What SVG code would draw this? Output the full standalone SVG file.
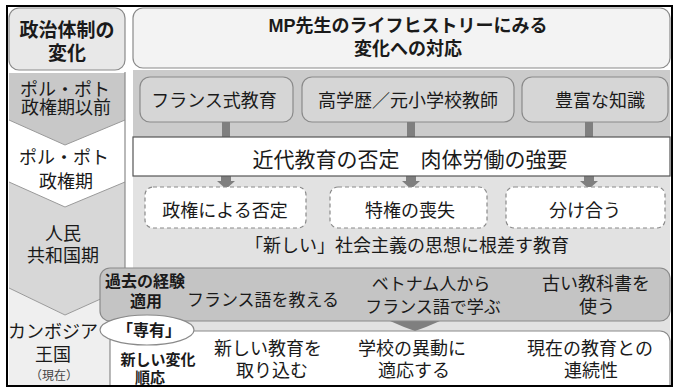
<svg xmlns="http://www.w3.org/2000/svg" width="677" height="389" viewBox="0 0 677 389">
<style>
text{font-family:"Liberation Sans","Noto Sans CJK JP","Noto Sans CJK SC",sans-serif;fill:#1a1a1a;text-anchor:middle;font-size:18px}
.b{font-weight:bold}
.box{fill:#d6d6d6;stroke:#8a8a8a;stroke-width:1.2}
.dash{fill:#fff;stroke:#8a8a8a;stroke-width:1.2;stroke-dasharray:4 3}
.conn{fill:#7f7f7f}
.edge{fill:none;stroke:#9a9a9a;stroke-width:1}
</style>
<rect width="677" height="389" fill="#fff"/>
<g id="left-column">
  <rect x="9" y="8" width="116" height="62" rx="10" fill="#e8e8e8" stroke="#8a8a8a" stroke-width="1.2"/>
  <polygon points="9,73 125,73 125,120 65,145 9,120" fill="#c8c8c8"/>
  <polygon points="9,182 65,207 125,182 125,288 65,315 9,288" fill="#d7d7d7"/>
  <polygon points="9,288 65,315 125,288 125,389 9,389" fill="#efefef"/>
  <polyline class="edge" points="9,120 65,145 125,120"/>
  <polyline class="edge" points="9,182 65,207 125,182"/>
  <polyline class="edge" points="9,288 65,315 125,288"/>
  <line x1="125" y1="72" x2="125" y2="270" stroke="#8a8a8a" stroke-width="1.2"/>
  <text class="b" x="67" y="37" style="font-size:19px">政治体制の</text>
  <text class="b" x="67" y="60" style="font-size:19px">変化</text>
  <text x="65" y="96">ポル・ポト</text>
  <text x="66" y="114">政権期以前</text>
  <text x="64" y="164">ポル・ポト</text>
  <text x="66" y="188">政権期</text>
  <text x="63" y="240">人民</text>
  <text x="63" y="262">共和国期</text>
  <text x="53" y="338">カンボジア</text>
  <text x="53" y="361">王国</text>
  <text x="54" y="380" style="font-size:12px;fill:#444">（現在）</text>
</g>
<g id="title">
  <rect x="133" y="8" width="537" height="60" rx="10" fill="#f3f3f3" stroke="#8a8a8a" stroke-width="1.2"/>
  <text class="b" x="408" y="32">MP先生のライフヒストリーにみる</text>
  <text class="b" x="408" y="55">変化への対応</text>
</g>
<g id="bands">
  <rect x="133" y="70" width="537" height="67" fill="#cbcbcb"/>
  <rect x="133" y="176" width="537" height="160" fill="#e2e2e2"/>
</g>
<g id="node-france">
  <rect class="box" x="140" y="77" width="153" height="45" rx="10"/>
  <text x="214" y="107">フランス式教育</text>
</g>
<g id="node-degree">
  <rect class="box" x="302" y="77" width="212" height="45" rx="10"/>
  <text x="408" y="107">高学歴／元小学校教師</text>
</g>
<g id="node-knowledge">
  <rect class="box" x="522" y="77" width="146" height="45" rx="10"/>
  <text x="600" y="107">豊富な知識</text>
</g>
<g id="connectors">
  <rect class="conn" x="222" y="122" width="8" height="15"/>
  <rect class="conn" x="407" y="122" width="8" height="15"/>
  <rect class="conn" x="585" y="122" width="8" height="15"/>
  <polygon class="conn" points="221,176 231,176 231,181 235,181 226,189 217,181 221,181"/>
  <polygon class="conn" points="406,176 416,176 416,181 420,181 411,189 402,181 406,181"/>
  <polygon class="conn" points="584,176 594,176 594,181 598,181 589,189 580,181 584,181"/>
  <polygon class="conn" points="390,321 440,321 426,327 415,331 404,327"/>
</g>
<g id="node-denial">
  <rect x="133" y="137" width="537" height="39" fill="#fff" stroke="#555" stroke-width="1.2"/>
  <text x="410" y="167" style="font-size:21px" xml:space="preserve">近代教育の否定　肉体労働の強要</text>
</g>
<g id="node-regime">
  <rect class="dash" x="145" y="187" width="161" height="41" rx="8"/>
  <text x="225" y="217">政権による否定</text>
</g>
<g id="node-privilege">
  <rect class="dash" x="330" y="187" width="157" height="41" rx="8"/>
  <text x="410" y="217">特権の喪失</text>
</g>
<g id="node-share">
  <rect class="dash" x="506" y="187" width="159" height="41" rx="8"/>
  <text x="585" y="217">分け合う</text>
</g>
<g id="label-socialism">
  <text x="407" y="252">「新しい」社会主義の思想に根差す教育</text>
</g>
<g id="node-past">
  <rect x="100" y="268" width="570" height="53" rx="10" fill="#c4c4c4" stroke="#8a8a8a" stroke-width="1.2"/>
  <text class="b" x="145" y="287" style="font-size:16px">過去の経験</text>
  <text class="b" x="146" y="307" style="font-size:16px">適用</text>
  <text x="263" y="306" style="font-size:17px">フランス語を教える</text>
  <text x="431" y="290" style="font-size:17px">ベトナム人から</text>
  <text x="433" y="313" style="font-size:17px">フランス語で学ぶ</text>
  <text x="596" y="290">古い教科書を</text>
  <text x="597" y="313">使う</text>
</g>
<g id="node-new">
  <rect x="110" y="331" width="560" height="70" rx="10" fill="#fff" stroke="#8a8a8a" stroke-width="1.2"/>
  <text class="b" x="158" y="365" style="font-size:15px">新しい変化</text>
  <text class="b" x="150" y="383" style="font-size:15px">順応</text>
  <text x="268" y="355">新しい教育を</text>
  <text x="272" y="377">取り込む</text>
  <text x="412" y="355">学校の異動に</text>
  <text x="414" y="377">適応する</text>
  <text x="590" y="355">現在の教育との</text>
  <text x="591" y="377">連続性</text>
</g>
<g id="node-exclusive">
  <ellipse cx="147" cy="330" rx="47" ry="15" fill="#fff" stroke="#8a8a8a" stroke-width="1.2"/>
  <text class="b" x="149" y="336" style="font-size:16px">「専有」</text>
</g>
<rect x="7" y="6" width="665" height="380" fill="none" stroke="#000" stroke-width="2"/>
<rect x="0" y="387" width="677" height="2" fill="#fff"/>
</svg>
